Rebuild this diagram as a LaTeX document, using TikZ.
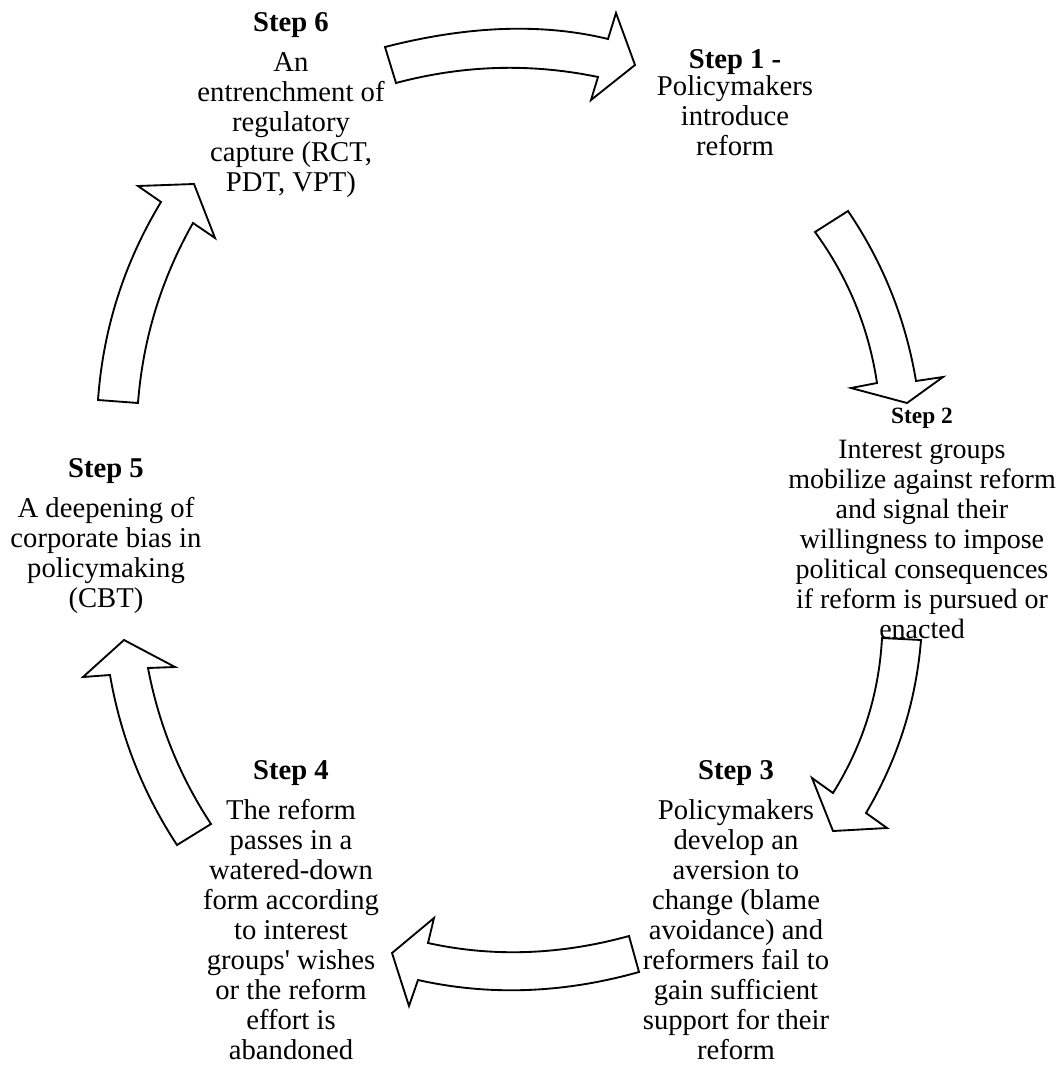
\documentclass[tikz,border=0pt]{standalone}
\usepackage{fontspec}
\setmainfont{Liberation Serif}[Ligatures=TeXOff]
\newcommand\txtfont{\fontsize{21.5}{22.5}\selectfont}
\newcommand\smalltxtfont{\fontsize{21}{22.5}\selectfont}
\tikzset{
  blockarrow/.style={draw=black, fill=white, line width=1.4pt, line join=miter},
  steptext/.style={inner sep=0pt, anchor=base},
}
\begin{document}
\begin{tikzpicture}[x=0.75pt, y=-0.75pt]
\fill[white] (0,0) rectangle (1060,1066);
\useasboundingbox (0,0) rectangle (1060,1066);

% arrow 6 -> 1 (top)
\draw[blockarrow] (385,47) .. controls (468,25.7) and (542.3,23) .. (608,39) -- (616,13) -- (635,65) -- (591,100) -- (598,77) .. controls (530.7,63) and (463.3,65) .. (396,83) -- cycle;
% arrow 1 -> 2
\draw[blockarrow] (848,211) .. controls (883.1,262.7) and (905.7,319.4) .. (916,381) -- (943,377) -- (907,403) -- (851,388) -- (877,383) .. controls (868.7,327.6) and (848,277.3) .. (815,232) -- cycle;
% arrow 2 -> 3
\draw[blockarrow] (921,640) .. controls (916,701.9) and (897.7,759.6) .. (866,813) -- (887,828) -- (833,831) -- (812,778) -- (833,793) .. controls (862.7,745.5) and (879,693.9) .. (882,638) -- cycle;
% arrow 3 -> 4 (bottom)
\draw[blockarrow] (639,972) .. controls (563.3,993.3) and (489.7,996) .. (418,980) -- (409,1006) -- (392,953) -- (434,918) -- (428,943) .. controls (493,957.3) and (560,955) .. (629,936) -- cycle;
% arrow 4 -> 5
\draw[blockarrow] (177,845) .. controls (142.9,793) and (120.5,736.3) .. (110,675) -- (83,677) -- (124,640) -- (175,667) -- (148,668) .. controls (158.6,724.2) and (179.6,776.2) .. (211,824) -- cycle;
% arrow 5 -> 6
\draw[blockarrow] (98,400) .. controls (103.1,328.9) and (124.1,262.9) .. (161,202) -- (138,186) -- (194,184) -- (215,238) -- (193,223) .. controls (161.3,278.9) and (142.9,338.9) .. (138,403) -- cycle;

% texts
\node[steptext] (s1) at (735,69) {\txtfont\begin{tabular}[t]{@{}c@{}}\textbf{Step 1 -}\\[-2.25pt] Policymakers\\ introduce\\ reform\end{tabular}};
\node[steptext] (s2) at (922,423) {\smalltxtfont\begin{tabular}[t]{@{}c@{}}{\fontsize{17.5}{20}\selectfont\textbf{Step 2}}\\[3.75pt] Interest groups\\ mobilize against reform\\ and signal their\\ willingness to impose\\ political consequences\\ if reform is pursued or\\ enacted\end{tabular}};
\node[steptext] (s3) at (736,779) {\txtfont\begin{tabular}[t]{@{}c@{}}\textbf{Step 3}\\[7.5pt] Policymakers\\ develop an\\ aversion to\\ change (blame\\ avoidance) and\\ reformers fail to\\ gain sufficient\\ support for their\\ reform\end{tabular}};
\node[steptext] (s4) at (291,779) {\txtfont\begin{tabular}[t]{@{}c@{}}\textbf{Step 4}\\[7.5pt] The reform\\ passes in a\\ watered-down\\ form according\\ to interest\\ groups' wishes\\ or the reform\\ effort is\\ abandoned\end{tabular}};
\node[steptext] (s5) at (106,477) {\txtfont\begin{tabular}[t]{@{}c@{}}\textbf{Step 5}\\[7.5pt] A deepening of\\ corporate bias in\\ policymaking\\ (CBT)\end{tabular}};
\node[steptext] (s6) at (291,31.7) {\txtfont\begin{tabular}[t]{@{}c@{}}\textbf{Step 6}\\[7.5pt] An\\ entrenchment of\\ regulatory\\ capture (RCT,\\ PDT, VPT)\end{tabular}};
\end{tikzpicture}
\end{document}
